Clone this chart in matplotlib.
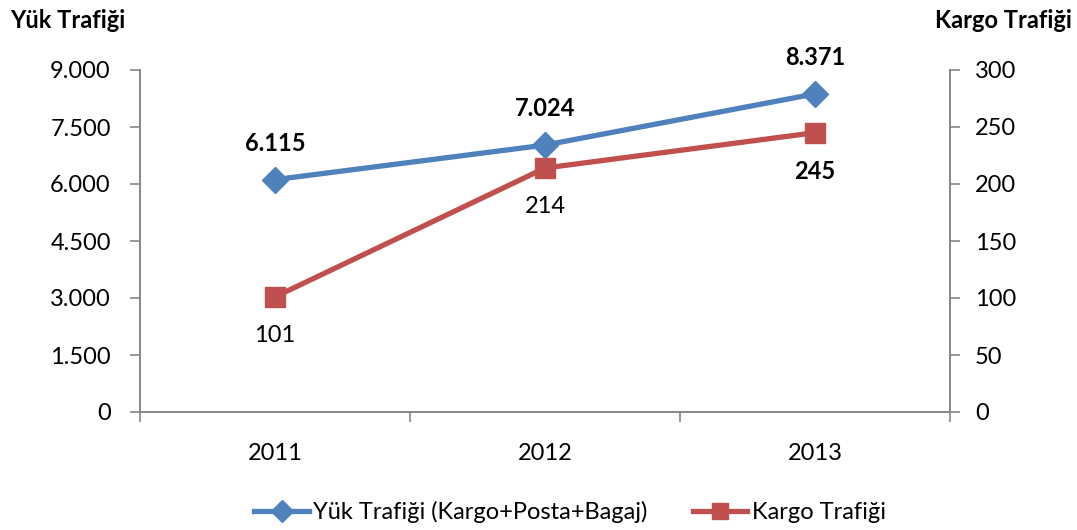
import matplotlib
matplotlib.use("Agg")
import matplotlib.pyplot as plt
from matplotlib.ticker import FuncFormatter, FixedLocator

years = ["2011", "2012", "2013"]
yuk = [6115, 7024, 8371]
kargo = [101, 214, 245]
yuk_labels = ["6.115", "7.024", "8.371"]
kargo_labels = ["101", "214", "245"]
kargo_bold = [False, False, True]

plt.rcParams['font.family'] = ['Lato', 'DejaVu Sans']
BLUE = "#4F81BD"
RED = "#C0504D"
GRAY = "#868686"
FS = 17

fig = plt.figure(figsize=(10.77, 5.30), dpi=100)
ax = fig.add_axes([140/1077, 118/530, 810/1077, 342/530])
ax2 = ax.twinx()

x = list(range(len(years)))
l1, = ax.plot(x, yuk, color=BLUE, lw=3.8, marker="D", ms=13, zorder=3,
              label="Yük Trafiği (Kargo+Posta+Bagaj)")
l2, = ax2.plot(x, kargo, color=RED, lw=3.8, marker="s", ms=14, zorder=3,
               label="Kargo Trafiği")

ax.set_xlim(-0.5, len(years) - 0.5)
ax.set_ylim(0, 9000)
ax2.set_ylim(0, 300)
ax.set_yticks(range(0, 9001, 1500))
ax2.set_yticks(range(0, 301, 50))
ax.yaxis.set_major_formatter(FuncFormatter(lambda v, p: f"{int(v):,}".replace(",", ".")))

ax.xaxis.set_major_locator(FixedLocator([i - 0.5 for i in range(len(years) + 1)]))
ax.set_xticklabels([])
ax.set_xticks(x, minor=True)
ax.set_xticklabels(years, minor=True)
ax.tick_params(axis="x", which="major", length=7, color=GRAY, width=1.2, direction="out")
ax.tick_params(axis="x", which="minor", length=0, labelsize=FS, pad=22)

for a in (ax, ax2):
    for s in a.spines.values():
        s.set_color(GRAY)
        s.set_linewidth(1.2)
    a.spines["top"].set_visible(False)
ax.tick_params(axis="y", length=7, color=GRAY, width=1.2, labelsize=FS, pad=14)
ax2.tick_params(axis="y", length=7, color=GRAY, width=1.2, labelsize=FS, pad=11)

for i in x:
    ax.annotate(yuk_labels[i], (i, yuk[i]), xytext=(0, 26), textcoords="offset points",
                ha="center", va="center", fontsize=FS, fontweight="bold")
    ax2.annotate(kargo_labels[i], (i, kargo[i]), xytext=(0, -28), textcoords="offset points",
                 ha="center", va="center", fontsize=FS,
                 fontweight="bold" if kargo_bold[i] else "normal")

fig.text(10/1077, 1 - 20/530, "Yük Trafiği", fontsize=FS, fontweight="bold", va="center", ha="left")
fig.text(1072/1077, 1 - 20/530, "Kargo Trafiği", fontsize=FS, fontweight="bold", va="center", ha="right")

fig.legend([l1, l2], [l1.get_label(), l2.get_label()], loc="center",
           bbox_to_anchor=(570/1077, 1 - 512/530), ncol=2, frameon=False, fontsize=FS,
           handlelength=2.3, handletextpad=0.2, columnspacing=1.9, borderpad=0,
           markerscale=0.85)

fig.savefig("out.png", dpi=100)
